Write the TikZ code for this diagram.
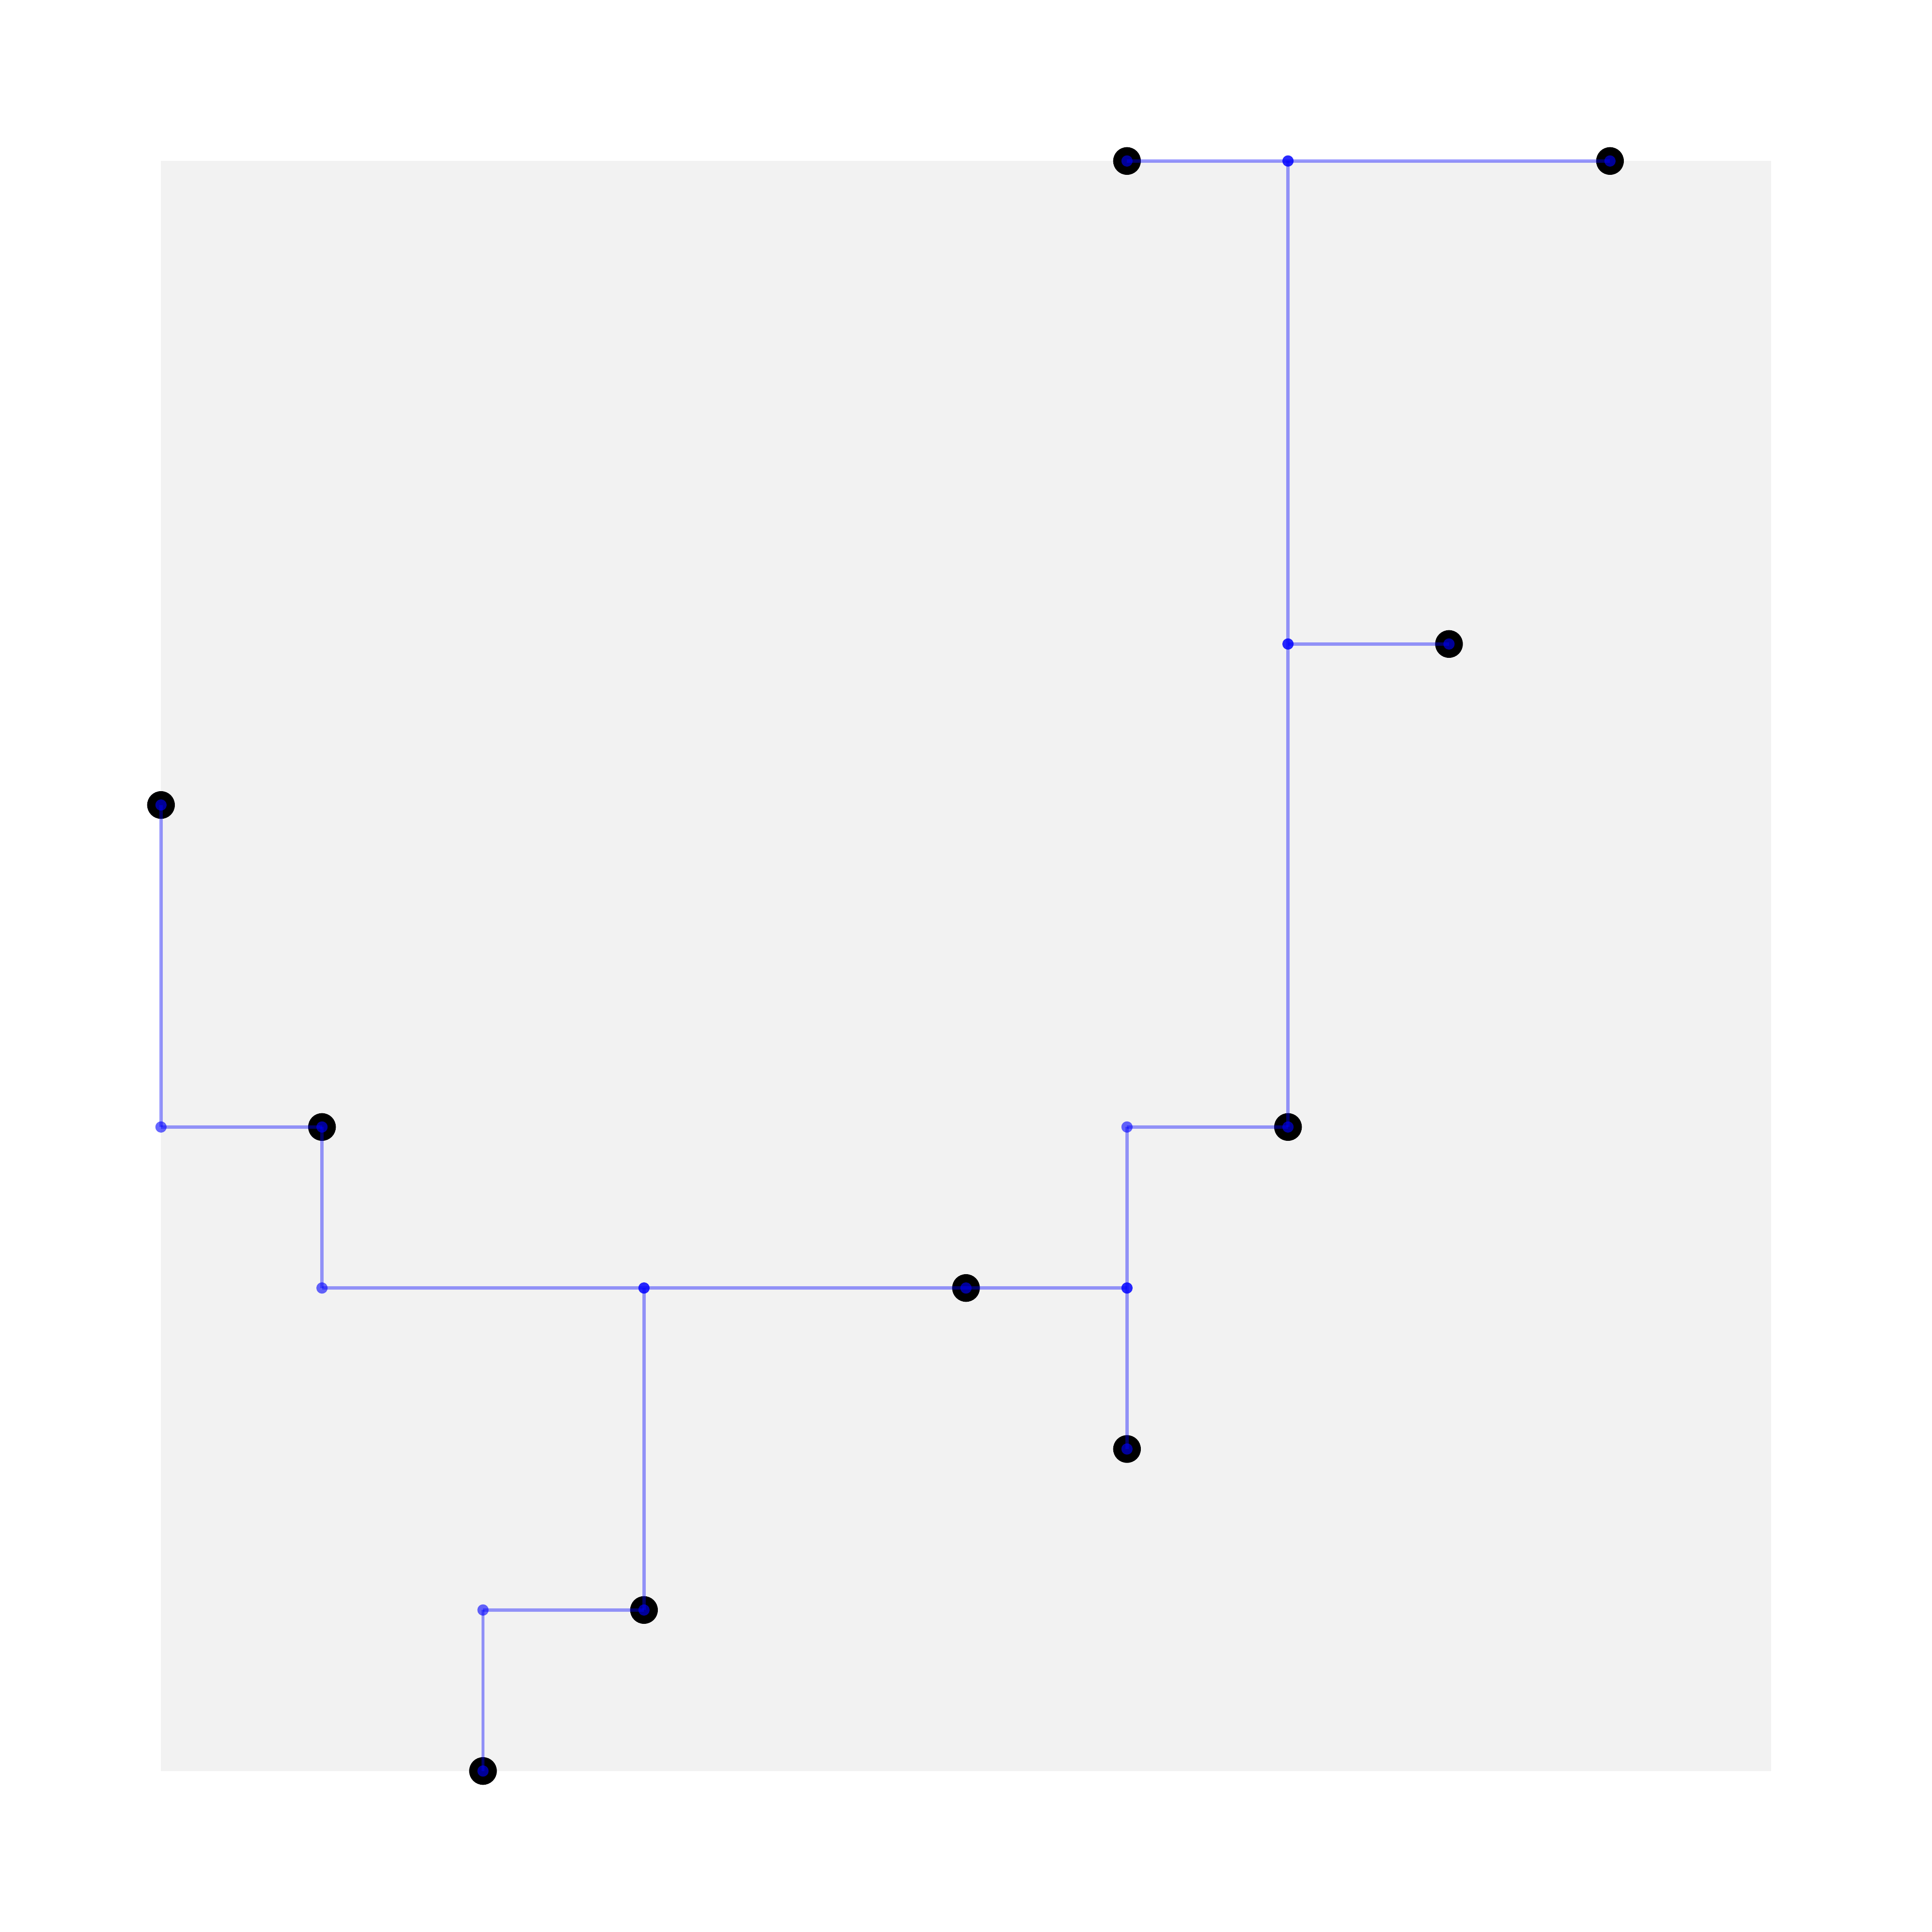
\documentclass[tikz,border=0pt]{standalone}
\usetikzlibrary{positioning}

\begin{document}
\begin{tikzpicture}[
    edge/.style={draw=blue, opacity=0.4, line width=0.55pt},
    term/.style={fill=black},
    dot/.style={fill=blue, opacity=0.6},
    junc/.style={fill=blue, opacity=0.84}
]

\useasboundingbox (-1,-1) rectangle (11,11);

% Grid area
\fill[black!5] (0,0) rectangle (10,10);

% Terminals and Steiner points
\foreach \n/\x/\y in {tA/6/10, tB/9/10, tC/8/7, tD/0/6, tE/1/4, tF/7/4, tG/5/3, tH/6/2, tI/3/1, tJ/2/0,
                      sA/7/10, sB/7/7, sC/0/4, sD/1/3, sE/3/3, sF/6/4, sG/6/3, sH/2/1} {
    \coordinate (\n) at (\x,\y);
}

% Terminal discs
\foreach \n in {tA, tB, tC, tD, tE, tF, tG, tH, tI, tJ} {
    \fill[term] (\n) circle (0.086);
}

% Tree edges
\foreach \a/\b in {tA/sA, sA/tB, sA/sB, sB/tF, sB/tC, tD/sC, sC/tE, tE/sD, sD/sE, sE/tG,
                   tG/sG, sE/tI, sF/tF, sF/sG, sG/tH, sH/tI, sH/tJ} {
    \draw[edge] (\a) -- (\b);
}

% Vertex markers
\foreach \n in {tA, tB, tC, tD, tE, tF, tG, tH, tI, tJ, sC, sD, sF, sH} {
    \fill[dot] (\n) circle (0.035);
}
\foreach \n in {sA, sB, sE, sG} {
    \fill[junc] (\n) circle (0.035);
}

\end{tikzpicture}
\end{document}
